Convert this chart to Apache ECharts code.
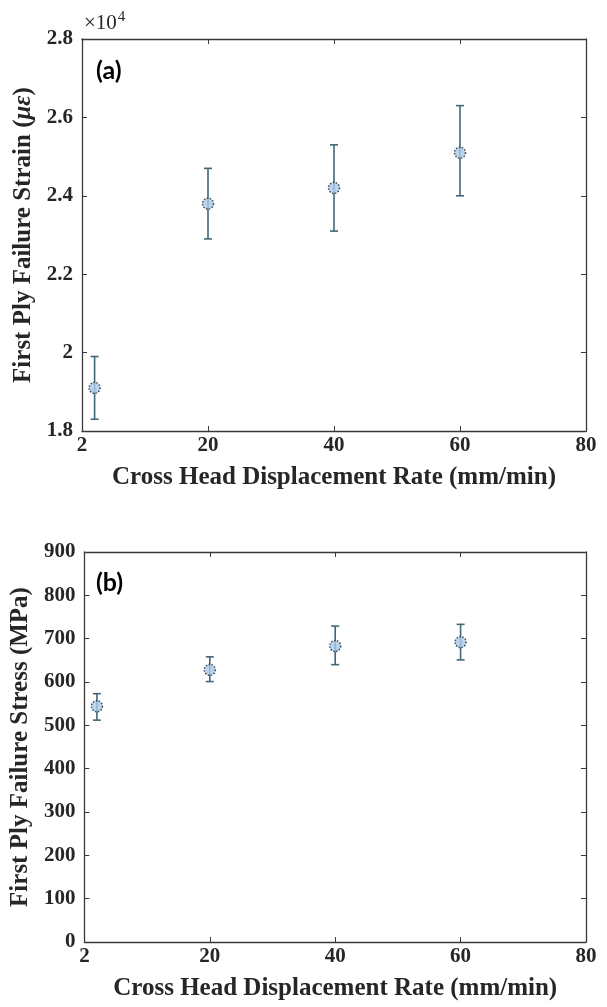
<!DOCTYPE html>
<html>
<head>
<meta charset="utf-8">
<script src="https://cdn.jsdelivr.net/npm/echarts@6/dist/echarts.min.js"></script>
<style>
html, body { margin: 0; padding: 0; background: #fff; }
#chart { width: 607px; height: 1007px; }
</style>
</head>
<body>
<div id="chart"></div>
<script>
// cross head displacement rates (mm/min)
var rates = [2, 20, 40, 60];
var xTicks = ['2', '20', '40', '60', '80'];

// (a) first ply failure strain, x10^4 microstrain
var strainMean = [1.91, 2.38, 2.42, 2.51];
var strainLow = [1.83, 2.29, 2.31, 2.40];
var strainHigh = [1.99, 2.47, 2.53, 2.63];

// (b) first ply failure stress, MPa
var stressMean = [544, 628, 683, 692];
var stressLow = [512, 601, 640, 651];
var stressHigh = [573, 658, 729, 733];

var serif = '"Liberation Serif", "Times New Roman", serif';
var axisColor = '#3a3a3a';
var textColor = '#262626';
var barColor = '#41677a';

var myChart = echarts.init(document.getElementById('chart'));

function zip3(a, b, c) {
    var out = [];
    for (var i = 0; i < a.length; i++) out.push([a[i], b[i], c[i]]);
    return out;
}
function zip2(a, b) {
    var out = [];
    for (var i = 0; i < a.length; i++) out.push([a[i], b[i]]);
    return out;
}

function errorBar(params, api) {
    var x = api.value(0);
    var lo = api.coord([x, api.value(1)]);
    var hi = api.coord([x, api.value(2)]);
    var w = 4;
    var style = { stroke: barColor, lineWidth: 1.6 };
    return {
        type: 'group',
        children: [
            { type: 'line', shape: { x1: lo[0], y1: lo[1], x2: hi[0], y2: hi[1] }, style: style },
            { type: 'line', shape: { x1: lo[0] - w, y1: lo[1], x2: lo[0] + w, y2: lo[1] }, style: style },
            { type: 'line', shape: { x1: hi[0] - w, y1: hi[1], x2: hi[0] + w, y2: hi[1] }, style: style }
        ]
    };
}

function xAxisOf(grid, pos) {
    var main = pos === 'bottom';
    return {
        type: 'value',
        gridIndex: grid,
        position: pos,
        min: 0,
        max: 80,
        interval: 20,
        name: main ? 'Cross Head Displacement Rate (mm/min)' : '',
        nameLocation: 'middle',
        nameGap: 34,
        nameTextStyle: { fontFamily: serif, fontWeight: 'bold', fontSize: 25, color: textColor },
        splitLine: { show: false },
        axisLine: { show: true, onZero: false, lineStyle: { color: axisColor, width: 1.3 } },
        axisTick: { show: true, inside: true, length: 5, lineStyle: { color: axisColor } },
        axisLabel: {
            show: main,
            margin: 4,
            fontFamily: serif,
            fontWeight: 'bold',
            fontSize: 21,
            color: textColor,
            formatter: function (v) { return xTicks[Math.round(v / 20)]; }
        }
    };
}

function yAxisOf(grid, pos, min, max, step, name) {
    var main = pos === 'left';
    return {
        type: 'value',
        gridIndex: grid,
        position: pos,
        min: min,
        max: max,
        interval: step,
        name: main ? name : '',
        nameLocation: 'middle',
        nameGap: 42,
        nameTextStyle: {
            fontFamily: serif, fontWeight: 'bold', fontSize: 25, color: textColor,
            rich: { i: { fontFamily: serif, fontStyle: 'italic', fontWeight: 'bold', fontSize: 25, color: textColor } }
        },
        splitLine: { show: false },
        axisLine: { show: true, onZero: false, lineStyle: { color: axisColor, width: 1.3 } },
        axisTick: { show: true, inside: true, length: 5, lineStyle: { color: axisColor } },
        axisLabel: {
            show: main,
            margin: 9,
            fontFamily: serif,
            fontWeight: 'bold',
            fontSize: 21,
            color: textColor
        }
    };
}

var markerStyle = {
    color: '#a9c9e8',
    borderColor: '#1c2b38',
    borderWidth: 1.5,
    borderType: 'dotted'
};

var option = {
    backgroundColor: '#fff',
    animation: false,
    grid: [
        { left: 82, top: 39, width: 504, height: 392 },
        { left: 82, top: 552, width: 504, height: 390 }
    ],
    xAxis: [
        xAxisOf(0, 'bottom'),
        xAxisOf(0, 'top'),
        xAxisOf(1, 'bottom'),
        xAxisOf(1, 'top')
    ],
    yAxis: [
        yAxisOf(0, 'left', 1.8, 2.8, 0.2, 'First Ply Failure Strain ({i|με})'),
        yAxisOf(0, 'right', 1.8, 2.8, 0.2, ''),
        yAxisOf(1, 'left', 0, 900, 100, 'First Ply Failure Stress (MPa)'),
        yAxisOf(1, 'right', 0, 900, 100, '')
    ],
    graphic: [
        {
            type: 'text', left: 84, top: 10,
            style: {
                text: '×10{s|4}',
                font: '21px ' + serif,
                fill: textColor,
                rich: { s: { font: '15px ' + serif, fill: textColor, verticalAlign: 'top', padding: [0, 0, 11, 1] } }
            }
        },
        {
            type: 'text', left: 96, top: 58,
            style: { text: '(a)', font: 'bold 25px Lato, "Open Sans", sans-serif', fill: '#000' }
        },
        {
            type: 'text', left: 96, top: 570,
            style: { text: '(b)', font: 'bold 25px Lato, "Open Sans", sans-serif', fill: '#000' }
        }
    ],
    series: [
        {
            type: 'custom',
            xAxisIndex: 0,
            yAxisIndex: 0,
            renderItem: errorBar,
            encode: { x: 0, y: [1, 2] },
            data: zip3(rates, strainLow, strainHigh),
            z: 2
        },
        {
            type: 'scatter',
            xAxisIndex: 0,
            yAxisIndex: 0,
            symbol: 'circle',
            symbolSize: 11,
            itemStyle: markerStyle,
            data: zip2(rates, strainMean),
            z: 3
        },
        {
            type: 'custom',
            xAxisIndex: 2,
            yAxisIndex: 2,
            renderItem: errorBar,
            encode: { x: 0, y: [1, 2] },
            data: zip3(rates, stressLow, stressHigh),
            z: 2
        },
        {
            type: 'scatter',
            xAxisIndex: 2,
            yAxisIndex: 2,
            symbol: 'circle',
            symbolSize: 11,
            itemStyle: markerStyle,
            data: zip2(rates, stressMean),
            z: 3
        }
    ]
};

myChart.setOption(option);
</script>
</body>
</html>
